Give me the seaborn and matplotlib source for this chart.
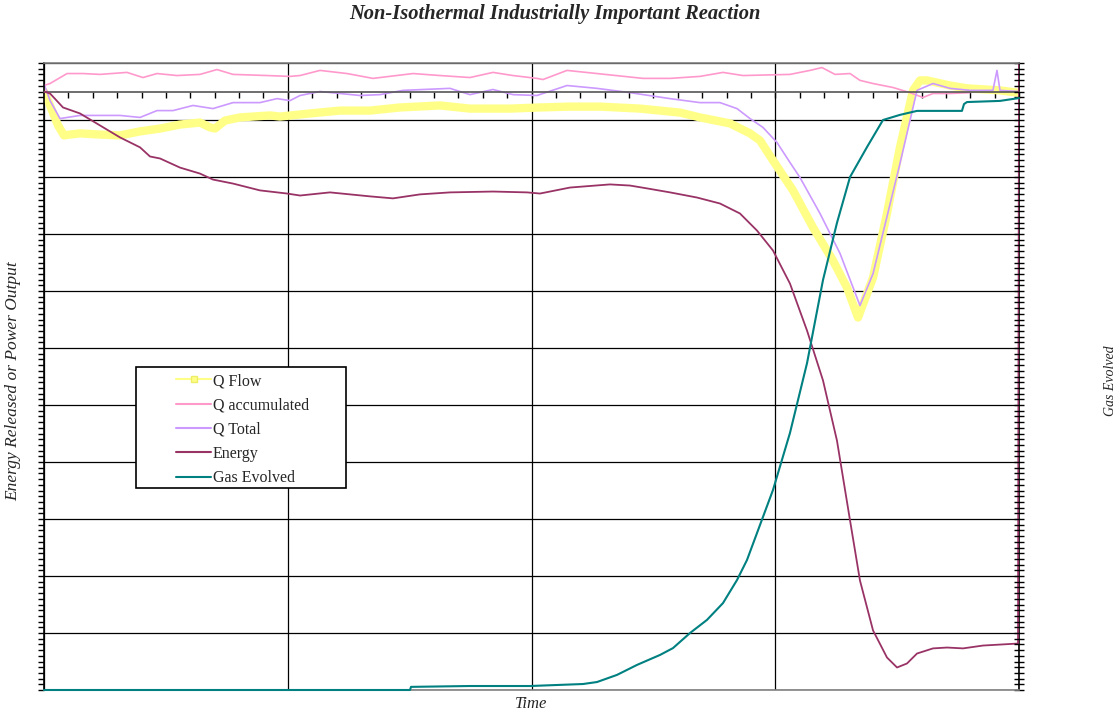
import numpy as np
import pandas as pd
import matplotlib
matplotlib.use("Agg")
import matplotlib.pyplot as plt
import seaborn as sns
from matplotlib.ticker import FixedLocator, NullFormatter
from matplotlib.lines import Line2D
from matplotlib.patches import Rectangle

# ---- data (time in % of run; left axis: energy / power; right axis: gas) ----
qflow_t = [0, 0.62, 1.44, 2.05, 2.67, 3.69, 5.74, 7.79, 9.85, 11.9, 13.95, 16.0, 17.03,
           17.54, 18.56, 20.1, 23.18, 24.2, 27.28, 30.36, 33.44, 36.51, 40.62, 43.69,
           47.79, 50.87, 53.95, 57.03, 61.13, 65.23, 67.28, 70.36, 72.41, 73.44, 74.77,
           76.82, 78.87, 80.92, 82.36, 83.49, 85.03, 86.46, 87.79, 89.13, 89.85, 90.56,
           92.92, 94.67, 98.05, 99.79]
qflow_v = [0, -0.49, -1.19, -1.54, -1.51, -1.47, -1.51, -1.54, -1.40, -1.30, -1.16, -1.09,
           -1.26, -1.30, -1.02, -0.91, -0.84, -0.88, -0.77, -0.67, -0.67, -0.56, -0.49,
           -0.60, -0.60, -0.56, -0.53, -0.53, -0.60, -0.74, -0.91, -1.12, -1.47, -1.72,
           -2.42, -3.47, -4.77, -5.93, -6.88, -7.93, -6.53, -4.28, -1.96, 0.04, 0.39,
           0.39, 0.21, 0.11, 0.04, -0.04]

qacc_t = [0, 0.62, 2.36, 4.0, 5.74, 8.51, 10.15, 11.59, 13.64, 16.0, 17.74, 19.38, 22.87,
          25.23, 26.26, 28.31, 31.08, 33.74, 37.85, 40.62, 43.69, 46.05, 48.1, 50.56,
          51.18, 53.64, 56.72, 61.44, 64.21, 67.28, 69.64, 71.69, 76.51, 78.56, 79.79,
          81.13, 82.67, 83.69, 85.03, 87.08, 88.82, 90.15, 91.18, 92.92, 94.97]
qacc_v = [0.21, 0.28, 0.63, 0.63, 0.60, 0.67, 0.49, 0.63, 0.56, 0.60, 0.77, 0.60, 0.56,
          0.53, 0.56, 0.74, 0.63, 0.46, 0.63, 0.56, 0.49, 0.67, 0.56, 0.46, 0.42, 0.74,
          0.63, 0.46, 0.46, 0.53, 0.67, 0.56, 0.60, 0.74, 0.84, 0.60, 0.63, 0.39, 0.28,
          0.14, -0.04, -0.21, -0.07, -0.07, -0.04]

qtot_t = [0, 0.3, 0.62, 1.64, 3.69, 5.74, 7.79, 9.85, 11.59, 13.23, 15.28, 17.33, 19.38,
          22.15, 23.9, 25.23, 26.26, 28.31, 32.41, 34.46, 36.82, 41.64, 43.69, 46.05,
          48.1, 50.56, 53.64, 56.72, 60.1, 64.21, 67.28, 69.33, 71.08, 72.41, 73.74,
          75.18, 76.51, 77.54, 79.59, 81.64, 83.69, 85.03, 87.79, 89.54, 91.18, 92.92,
          94.97, 97.33, 97.74, 98.05, 100]
qtot_v = [0.25, 0, -0.32, -0.95, -0.84, -0.84, -0.84, -0.91, -0.67, -0.67, -0.49, -0.60,
          -0.39, -0.39, -0.25, -0.32, -0.14, 0, -0.14, -0.11, 0.04, 0.11, -0.11, 0.07,
          -0.11, -0.14, 0.21, 0.11, -0.04, -0.25, -0.39, -0.39, -0.60, -0.95, -1.26,
          -1.79, -2.49, -3.02, -4.28, -5.68, -7.51, -6.39, -2.53, 0.04, 0.28, 0.11,
          0.04, 0.04, 0.74, 0.04, 0]

energy_t = [0, 0.62, 1.95, 3.69, 5.74, 7.79, 9.85, 10.87, 11.9, 13.95, 16.0, 17.33, 19.38,
            22.15, 24.92, 26.26, 29.33, 33.44, 35.79, 38.56, 41.64, 46.05, 49.54, 50.87,
            53.95, 58.05, 60.1, 61.85, 64.21, 66.97, 69.33, 71.38, 73.13, 74.77, 76.51,
            78.26, 79.9, 81.33, 82.67, 83.69, 85.03, 86.46, 87.49, 88.51, 89.54, 91.18,
            92.62, 94.26, 96.31, 99.9, 100]
energy_v = [0, -0.07, -0.56, -0.77, -1.19, -1.61, -1.96, -2.28, -2.35, -2.67, -2.88, -3.09,
            -3.23, -3.47, -3.58, -3.65, -3.54, -3.68, -3.75, -3.61, -3.54, -3.51, -3.54,
            -3.58, -3.37, -3.26, -3.30, -3.40, -3.54, -3.72, -3.93, -4.28, -4.88, -5.58,
            -6.74, -8.39, -10.14, -12.25, -15.05, -17.16, -18.91, -19.86, -20.21, -20.07,
            -19.72, -19.54, -19.51, -19.54, -19.44, -19.37, 1.0]

gas_t = [0, 37.54, 37.64, 43.69, 49.85, 55.28, 56.72, 58.77, 60.82, 63.18, 64.51, 66.26,
         68.0, 69.64, 71.08, 72.1, 74.77, 76.51, 78.26, 79.9, 81.33, 82.67, 84.41, 86.05,
         87.79, 89.54, 94.15, 94.36, 94.67, 98.05, 100]
gas_v = [0, 0, 0.11, 0.14, 0.14, 0.21, 0.28, 0.53, 0.88, 1.23, 1.47, 2.0, 2.46, 3.05, 3.86,
         4.56, 7.02, 9.02, 11.47, 14.39, 16.39, 18.0, 19.05, 20.0, 20.18, 20.32, 20.32,
         20.56, 20.63, 20.67, 20.77]

series_names = ["Q Flow", "Q accumulated", "Q Total", "Energy", "Gas Evolved"]
colors = {"Q Flow": "#FFFF88", "Q accumulated": "#FF99CC", "Q Total": "#CC99FF",
          "Energy": "#993366", "Gas Evolved": "#008080"}

sns.set_theme(style="white")
plt.rcParams["font.family"] = ["Liberation Serif", "DejaVu Serif"]

W, H = 1120, 713
fig = plt.figure(figsize=(W / 100, H / 100), dpi=100)
fig.patch.set_facecolor("white")
ax = fig.add_axes([44 / W, 1 - 690 / H, 975 / W, 627 / H])
ax2 = ax.twinx()

def frame(t, v):
    return pd.DataFrame({"time": t, "value": v})

sns.lineplot(data=frame(qflow_t, qflow_v), x="time", y="value", ax=ax, sort=False,
             estimator=None, color=colors["Q Flow"], lw=6, legend=False,
             solid_joinstyle="round", solid_capstyle="round", zorder=2)
sns.lineplot(data=frame(qacc_t, qacc_v), x="time", y="value", ax=ax, sort=False,
             estimator=None, color=colors["Q accumulated"], lw=1.2, legend=False, zorder=2.1)
sns.lineplot(data=frame(qtot_t, qtot_v), x="time", y="value", ax=ax, sort=False,
             estimator=None, color=colors["Q Total"], lw=1.2, legend=False, zorder=2.2)
sns.lineplot(data=frame(energy_t, energy_v), x="time", y="value", ax=ax, sort=False,
             estimator=None, color=colors["Energy"], lw=1.3, legend=False, zorder=3)
sns.lineplot(data=frame(gas_t, gas_v), x="time", y="value", ax=ax2, sort=False,
             estimator=None, color=colors["Gas Evolved"], lw=1.5, legend=False, zorder=3,
             clip_on=False)

# left axis: energy / power
ax.set_xlim(0, 100)
ax.set_ylim(-21, 1)
ax.xaxis.set_major_locator(FixedLocator([0, 25, 50, 75, 100]))
ax.xaxis.set_minor_locator(FixedLocator(np.arange(0, 100.01, 2.5)))
ax.yaxis.set_major_locator(FixedLocator(np.arange(-21, 1.01, 2)))
ax.yaxis.set_minor_locator(FixedLocator(np.arange(-21, 1.01, 0.2)))
for a in (ax.xaxis, ax.yaxis):
    a.set_major_formatter(NullFormatter())
    a.set_minor_formatter(NullFormatter())
ax.set_xlabel("")
ax.set_ylabel("")
ax.grid(True, which="major", color="black", lw=0.9)
ax.set_axisbelow(True)
ax.spines["bottom"].set_position(("data", 0))
ax.spines["bottom"].set_color("#555555")
ax.spines["bottom"].set_linewidth(1.2)
ax.spines["left"].set_color("black")
ax.spines["left"].set_linewidth(1.2)
ax.spines["right"].set_color("black")
ax.spines["right"].set_linewidth(1.2)
ax.spines["top"].set_visible(False)
ax.tick_params(axis="x", which="both", direction="out", length=4, width=1, color="black",
               bottom=True, top=False)
ax.tick_params(axis="y", which="both", direction="out", length=4, width=1, color="black",
               left=True, right=False)

# right axis: gas evolved
ax2.set_ylim(0, 22)
ax2.yaxis.set_major_locator(FixedLocator(np.arange(0, 22.01, 2)))
ax2.yaxis.set_minor_locator(FixedLocator(np.arange(0, 22.01, 0.2)))
ax2.yaxis.set_major_formatter(NullFormatter())
ax2.yaxis.set_minor_formatter(NullFormatter())
ax2.set_ylabel("")
ax2.grid(False)
ax2.spines["right"].set_visible(False)
ax2.spines["left"].set_visible(False)
for s in ("top", "bottom"):
    ax2.spines[s].set_color("#808080")
    ax2.spines[s].set_linewidth(1.2)
ax2.spines["bottom"].set_zorder(1.5)
ax2.tick_params(axis="y", which="both", direction="inout", length=7, width=1,
                color="black", right=True, left=False)

# legend in a plain box
fig.add_artist(Rectangle((136 / W, 1 - 488 / H), 210 / W, 121 / H,
                         transform=fig.transFigure, facecolor="white",
                         edgecolor="black", lw=1.2, zorder=4))
handles = [
    Line2D([], [], color=colors["Q Flow"], lw=1.5, marker="s", markersize=4,
           markerfacecolor=colors["Q Flow"], markeredgecolor="#EEEE66"),
    Line2D([], [], color=colors["Q accumulated"], lw=1.5),
    Line2D([], [], color=colors["Q Total"], lw=1.5),
    Line2D([], [], color=colors["Energy"], lw=1.5),
    Line2D([], [], color=colors["Gas Evolved"], lw=1.5),
]
fig.legend(handles, series_names, loc="upper left",
           bbox_to_anchor=(176 / W, 1 - 373 / H), bbox_transform=fig.transFigure,
           frameon=False, fontsize=11.5, borderpad=0, borderaxespad=0,
           handlelength=2.2, handletextpad=0.1, labelspacing=0.52)

# titles
fig.text(555 / W, 1 - 14 / H, "Non-Isothermal Industrially Important Reaction",
         ha="center", va="center", fontsize=14.8, fontweight="bold", fontstyle="italic")
fig.text(531 / W, 1 - 704 / H, "Time", ha="center", va="center", fontsize=12,
         fontstyle="italic")
fig.text(13 / W, 1 - 381 / H, "Energy Released or Power Output", ha="center",
         va="center", rotation=90, fontsize=12.5, fontstyle="italic")
fig.text(1110 / W, 1 - 381 / H, "Gas Evolved", ha="center", va="center",
         rotation=90, fontsize=10, fontstyle="italic")

fig.savefig("out.png", dpi=100, facecolor="white")
